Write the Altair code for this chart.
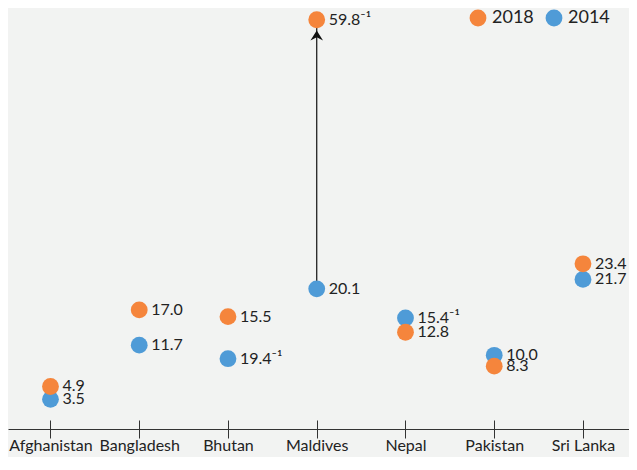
import altair as alt
import pandas as pd

countries = ["Afghanistan", "Bangladesh", "Bhutan", "Maldives", "Nepal", "Pakistan", "Sri Lanka"]
# dot positions
v2018 = [5.5, 16.8, 15.8, 59.6, 13.5, 8.5, 23.6]
v2014 = [3.6, 11.6, 9.6, 19.9, 15.6, 10.1, 21.3]
# printed labels
labels2018 = ["4.9", "17.0", "15.5", "59.8\u207b\u00b9", "12.8", "8.3", "23.4"]
labels2014 = ["3.5", "11.7", "19.4\u207b\u00b9", "20.1", "15.4\u207b\u00b9", "10.0", "21.7"]
years = ["2018", "2014"]
colors = ["#F5853C", "#4F9BD7"]

ymin, ymax = -0.77, 61.33
FONT = "Lato"
TXT = "#222222"

rows = []
for c, v, l in zip(countries, v2014, labels2014):
    rows.append({"country": c, "value": v, "label": l, "year": "2014"})
for c, v, l in zip(countries, v2018, labels2018):
    rows.append({"country": c, "value": v, "label": l, "year": "2018"})
df = pd.DataFrame(rows)

i = countries.index("Maldives")
arrow_df = pd.DataFrame({"country": [countries[i]], "y0": [v2014[i]], "y1": [v2018[i]]})

xenc = alt.X(
    "country:N",
    sort=countries,
    scale=alt.Scale(type="point", padding=0.4986, align=0.48),
    axis=alt.Axis(
        title=None, domain=False, offset=-9, tickSize=18, tickColor="#333333",
        tickWidth=1, labelFont=FONT, labelFontSize=16, labelColor=TXT,
        labelPadding=-1, labelAngle=0, grid=False,
    ),
)
yscale = alt.Scale(domain=[ymin, ymax], nice=False, zero=False)
yaxis = alt.Axis(
    values=[ymin], grid=True, gridColor="#333333", gridWidth=1, domain=False,
    ticks=False, labels=False, title=None,
)

rule = alt.Chart(arrow_df).mark_rule(color="#111111", strokeWidth=1.2).encode(
    x=xenc, y=alt.Y("y0:Q", scale=yscale, axis=yaxis), y2="y1:Q"
)
head = alt.Chart(arrow_df).mark_point(
    shape="M0,1.07L0.63,2.07L0,1.75L-0.63,2.07Z", filled=True, color="#111111",
    size=400, opacity=1, strokeWidth=0,
).encode(x=xenc, y=alt.Y("y1:Q", scale=yscale, axis=yaxis))

dots = alt.Chart(df).mark_circle(size=283, opacity=1).encode(
    x=xenc,
    y=alt.Y("value:Q", scale=yscale, axis=yaxis),
    color=alt.Color(
        "year:N",
        scale=alt.Scale(domain=years, range=colors),
        legend=alt.Legend(
            title=None, orient="none", legendX=461, legendY=1, direction="horizontal",
            symbolSize=283, symbolType="circle", labelFont=FONT, labelFontSize=18,
            labelColor=TXT, labelOffset=5, columnPadding=11, padding=0,
            symbolStrokeWidth=0, symbolOpacity=1,
        ),
    ),
    order=alt.Order("year:N", sort="ascending"),
)

texts = alt.Chart(df).mark_text(
    align="left", baseline="middle", dx=12, font=FONT, fontSize=16, color=TXT
).encode(x=xenc, y=alt.Y("value:Q", scale=yscale, axis=yaxis), text="label:N")

chart = (
    alt.layer(rule, head, dots, texts)
    .properties(
        width=621, height=421,
        autosize=alt.AutoSizeParams(type="none"),
        padding={"left": 0, "top": 0, "right": 0, "bottom": 28},
        background="#F2F3F2",
    )
    .configure_view(stroke=None)
)

chart.save("out.html", embed_options={"renderer": "svg", "actions": False})
